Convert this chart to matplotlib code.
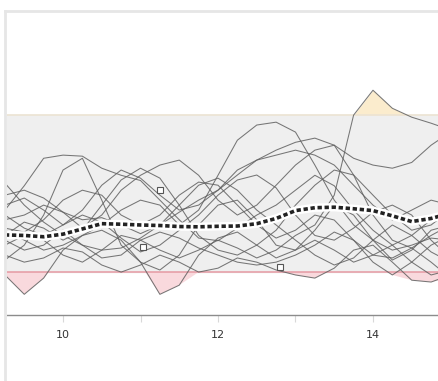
import numpy as np
import matplotlib
matplotlib.use("Agg")
import matplotlib.pyplot as plt
from matplotlib.lines import Line2D

# x positions shared by every run
x = [9.25, 9.5, 9.75, 10.0, 10.25, 10.5, 10.75, 11.0, 11.25, 11.5, 11.75, 12.0,
     12.25, 12.5, 12.75, 13.0, 13.25, 13.5, 13.75, 14.0, 14.25, 14.5, 14.75, 15.0]

lower_limit = 20
upper_limit = 80

runs = [
    [43.7, 53.0, 63.5, 64.7, 64.3, 59.7, 57.0, 55.0, 47.5, 40.0, 33.0, 32.0,
     36.8, 41.8, 45.6, 51.3, 57.0, 53.0, 43.7, 36.0, 30.3, 34.0, 40.0, 41.8],
    [24.6, 30.3, 41.8, 59.0, 63.5, 47.5, 30.3, 23.8, 20.8, 26.5, 38.0, 45.6,
     47.5, 40.0, 30.3, 28.4, 36.0, 45.6, 41.8, 32.2, 24.6, 28.4, 36.0, 38.0],
    [18.9, 11.5, 17.7, 28.4, 34.0, 36.0, 32.2, 23.8, 11.5, 15.0, 26.5, 33.0,
     35.3, 30.3, 25.4, 28.4, 32.2, 28.4, 23.8, 26.5, 30.3, 23.8, 18.9, 20.8],
    [36.0, 32.2, 28.4, 30.3, 34.0, 38.0, 43.7, 47.5, 45.6, 38.0, 43.7, 57.0,
     70.4, 76.2, 77.3, 73.5, 60.9, 47.5, 38.0, 32.2, 28.4, 30.3, 33.0, 32.2],
    [30.3, 34.0, 32.2, 26.5, 23.8, 28.4, 34.0, 32.2, 28.4, 25.4, 28.4, 32.2,
     29.2, 25.4, 28.4, 34.0, 38.0, 49.4, 80.0, 89.5, 82.6, 79.2, 76.9, 74.3],
    [40.0, 41.8, 45.6, 42.9, 36.8, 41.8, 51.3, 57.0, 60.9, 62.8, 57.0, 47.5,
     41.8, 45.6, 53.2, 60.9, 66.6, 68.5, 63.5, 60.9, 59.7, 61.9, 68.5, 73.5],
    [34.0, 39.1, 36.8, 32.2, 36.0, 45.6, 55.2, 59.7, 55.9, 45.6, 34.0, 28.4,
     26.5, 30.3, 36.0, 45.6, 53.2, 59.0, 57.1, 49.4, 41.8, 36.0, 38.0, 43.7],
    [54.0, 45.6, 39.1, 34.0, 30.3, 28.4, 29.2, 33.0, 38.0, 45.6, 53.2, 55.9,
     51.3, 43.7, 38.0, 32.2, 26.5, 22.7, 25.4, 32.2, 38.0, 34.0, 27.7, 23.8],
    [41.8, 36.8, 34.0, 38.0, 41.8, 39.1, 33.0, 27.7, 30.3, 36.0, 41.8, 49.4,
     55.2, 57.1, 52.2, 41.8, 34.0, 32.2, 36.8, 42.9, 45.6, 41.8, 32.2, 25.4],
    [26.5, 23.8, 25.4, 29.2, 27.7, 22.7, 20.0, 22.7, 26.5, 23.8, 20.0, 21.5,
     25.4, 23.8, 20.8, 18.9, 17.7, 21.5, 28.4, 30.3, 23.8, 16.9, 16.2, 18.9],
    [49.4, 51.3, 48.3, 42.9, 40.0, 40.8, 38.0, 34.7, 38.0, 42.9, 47.5, 51.3,
     57.1, 62.8, 64.7, 66.6, 64.7, 60.9, 53.2, 45.6, 39.9, 43.7, 47.5, 45.6],
    [32.2, 28.4, 30.3, 36.0, 30.3, 25.4, 26.5, 32.2, 35.3, 33.0, 29.2, 26.5,
     23.8, 22.7, 23.8, 26.5, 30.3, 35.3, 32.2, 23.8, 18.9, 23.8, 30.3, 34.0],
    [45.6, 48.3, 43.7, 38.0, 43.7, 53.2, 59.0, 55.9, 49.4, 43.7, 45.6, 51.3,
     59.0, 62.8, 66.6, 69.6, 71.2, 68.5, 57.1, 41.8, 32.2, 29.2, 34.0, 38.0],
    [36.8, 35.3, 40.0, 47.5, 51.3, 49.4, 41.8, 38.0, 41.8, 49.4, 54.4, 53.2,
     45.6, 38.0, 33.0, 36.0, 41.8, 39.9, 32.2, 26.5, 25.4, 29.2, 23.8, 17.7],
]

mean_line = [34.2, 34.0, 33.5, 34.5, 36.5, 38.5, 38.3, 38.0, 37.8, 37.4, 37.3, 37.5,
             37.6, 38.5, 40.5, 43.5, 44.6, 44.8, 44.2, 43.5, 41.5, 39.3, 40.5, 42.5]

# a few highlighted samples
marked_x = [11.25, 11.03, 12.8]
marked_y = [51.3, 29.6, 21.9]

tick_pos = [10, 11, 12, 13, 14]
tick_text = ["10", "", "12", "", "14"]

fig = plt.figure(figsize=(4.39, 3.81), dpi=100)
ax = fig.add_axes([7 / 439, 66 / 381, 432 / 439, 303 / 381])

xs = np.array(x)
data = np.array(runs)
low = data.min(axis=0)
high = data.max(axis=0)

ax.axhspan(lower_limit, upper_limit, color="#efefef", zorder=0)
ax.fill_between(xs, low, lower_limit, where=low < lower_limit, interpolate=True,
                color="#f9d9dd", zorder=1, lw=0)
ax.fill_between(xs, high, upper_limit, where=high > upper_limit, interpolate=True,
                color="#fbeccd", zorder=1, lw=0)
ax.axhline(lower_limit, color="#e59aa3", lw=1.1, zorder=2)
ax.axhline(upper_limit, color="#ece3d3", lw=1.2, zorder=2)

for r in runs:
    ax.plot(xs, r, color="#606060", lw=0.75, alpha=0.85, zorder=3,
            solid_joinstyle="round")

ax.plot(marked_x, marked_y, ls="", marker="s", ms=4.5, mfc="white",
        mec="#555555", mew=0.8, zorder=4)

# mean with a white halo under the dashes
ax.plot(xs, mean_line, color="white", lw=6, zorder=5, solid_capstyle="round")
ax.plot(xs, mean_line, color="#222222", lw=2.6, ls=(0, (1.2, 0.75)), zorder=6)

ax.set_xlim(9.277, 14.852)
ax.set_ylim(3.6, 119.4)
ax.set_xticks(tick_pos)
ax.set_xticklabels(tick_text)
ax.set_yticks([])
for side in ["top", "left", "right"]:
    ax.spines[side].set_visible(False)
ax.spines["bottom"].set_color("#8c8c8c")
ax.spines["bottom"].set_linewidth(1.0)
ax.tick_params(axis="x", length=5, width=0.8, color="#d8d8d8",
               labelsize=8, labelcolor="#333333", pad=6)
ax.set_facecolor("white")

# light frame from the surrounding panel
fig.add_artist(Line2D([5 / 439, 1], [1 - 11 / 381, 1 - 11 / 381],
                      color="#e6e6e6", lw=2, transform=fig.transFigure))
fig.add_artist(Line2D([5 / 439, 5 / 439], [0, 1 - 11 / 381],
                      color="#e6e6e6", lw=2, transform=fig.transFigure))

fig.savefig("out.png", dpi=100)
